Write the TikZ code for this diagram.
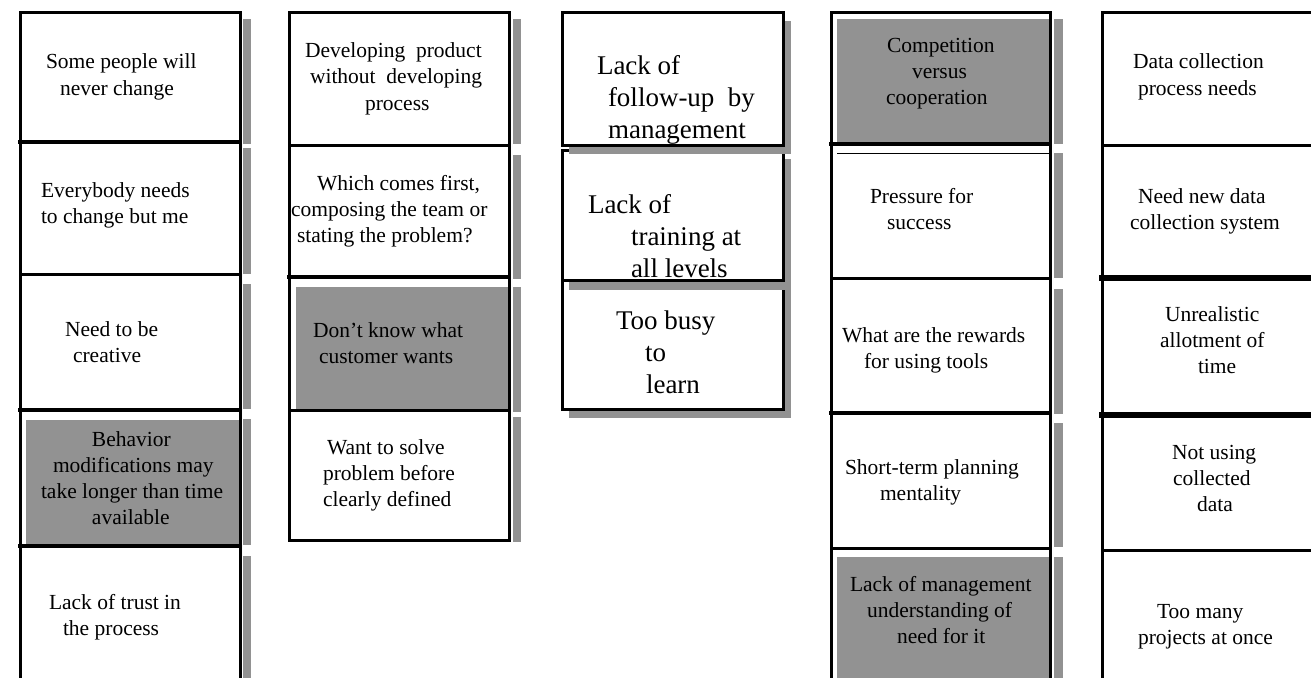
\documentclass[tikz,border=0pt]{standalone}
\usepackage{fontspec}
\setmainfont{Liberation Serif}
\definecolor{shade}{RGB}{146,146,146}
\newcommand\fst{\rule{0pt}{16pt}}
\newcommand\fstb{\rule{0pt}{20pt}}
\begin{document}
\begin{tikzpicture}[x=1pt,y=-1pt,
  lbl/.style={anchor=north west, inner sep=0pt, outer sep=0pt, align=left, font=\fontsize{21.5}{26}\selectfont},
  lblbig/.style={lbl, font=\fontsize{27}{32}\selectfont},
  edge/.style={line width=3pt, line cap=rect},
  heavy/.style={line width=4.5pt, line cap=rect},
  xheavy/.style={line width=6pt, line cap=rect},
  shd/.style={fill=shade, draw=none}]
\useasboundingbox (0,0) rectangle (1311,677);
\fill[white] (0,0) rectangle (1311,677);

% ---------- column 1 ----------
\fill[shd] (243,19) rectangle (251,144);
\fill[shd] (243,148) rectangle (251,274);
\fill[shd] (243,284) rectangle (251,409);
\fill[shd] (243,419) rectangle (251,545);
\fill[shd] (243,556) rectangle (251,680);
\fill[shd] (26,420) rectangle (240,546);
\draw[edge] (20,680) -- (20,12.5) -- (240,12.5) -- (240,680);
\draw[heavy] (20,142) -- (240,142);
\draw[edge] (20,274) -- (240,274);
\draw[heavy] (20,410) -- (240,410);
\draw[heavy] (20,546) -- (240,546);

% ---------- column 2 ----------
\fill[shd] (513,19) rectangle (521,144);
\fill[shd] (513,155) rectangle (521,279);
\fill[shd] (513,287) rectangle (521,412);
\fill[shd] (513,417) rectangle (521,542);
\fill[shd] (296,287) rectangle (509,410);
\draw[edge] (289,13) rectangle (509,540);
\draw[edge] (289,145) -- (509,145);
\draw[heavy] (289,277) -- (509,277);
\draw[edge] (289,410) -- (509,410);

% ---------- column 3 ----------
\fill[shd] (569,289) rectangle (791,418);
\draw[edge, fill=white] (562,280) rectangle (783,409);
\fill[shd] (569,159) rectangle (791,290);
\draw[edge, fill=white] (562,150) rectangle (783,280);
\fill[shd] (569,21) rectangle (791,154);
\draw[edge, fill=white] (562,13) rectangle (783,145);

% ---------- column 4 ----------
\fill[shd] (1054,19) rectangle (1063,144);
\fill[shd] (1054,153) rectangle (1063,278);
\fill[shd] (1054,289) rectangle (1063,414);
\fill[shd] (1054,423) rectangle (1063,547);
\fill[shd] (1054,557) rectangle (1063,680);
\fill[shd] (837,19) rectangle (1050,144);
\fill[shd] (837,557) rectangle (1050,680);
\draw[shade, line width=1pt] (837,153) -- (1050,153);
\draw[edge] (831,680) -- (831,13) -- (1050,13) -- (1050,680);
\draw[heavy] (831,144) -- (1050,144);
\draw[edge] (831,278) -- (1050,278);
\draw[heavy] (831,413) -- (1050,413);
\draw[edge] (831,548) -- (1050,548);

% ---------- column 5 ----------
\draw[edge] (1102,680) -- (1102,13) -- (1320,13);
\draw[edge] (1102,145) -- (1320,145);
\draw[xheavy] (1102,278) -- (1320,278);
\draw[xheavy] (1102,415) -- (1320,415);
\draw[edge] (1102,550) -- (1320,550);

% ---------- texts column 1 ----------
\node[lbl] (c1a) at (46,53) {\fst Some people will\\\hspace*{14pt}never change};
\node[lbl] (c1b) at (41,181) {\fst Everybody needs\\to change but me};
\node[lbl] (c1c) at (65,320) {\fst Need to be\\\hspace*{8pt}creative};
\node[lbl] (c1d) at (41,430) {\fst\hspace*{51pt}Behavior\\\hspace*{12pt}modifications may\\take longer than time\\\hspace*{51pt}available};
\node[lbl] (c1e) at (49,593) {\fst Lack of trust in\\\hspace*{14pt}the process};

% ---------- texts column 2 ----------
\node[lbl] (c2a) at (305,42) {\fst Developing\ \ product\\\hspace*{5pt}without\ \ developing\\\hspace*{60pt}process};
\node[lbl] (c2b) at (291,174) {\fst\hspace*{26pt}Which comes first,\\composing the team or\\\hspace*{6pt}stating the problem?};
\node[lbl] (c2c) at (313,321) {\fst Don't know what\\\hspace*{6pt}customer wants};
\node[lbl] (c2d) at (323,438) {\fst\hspace*{4pt}Want to solve\\problem before\\clearly defined};

% ---------- texts column 3 ----------
\node[lblbig] (c3a) at (597,54) {\fstb Lack of\\\hspace*{11pt}follow-up\ \ by\\\hspace*{11pt}management};
\node[lblbig] (c3b) at (588,193) {\fstb Lack of\\\hspace*{43pt}training at\\\hspace*{43pt}all levels};
\node[lblbig] (c3c) at (616,309) {\fstb Too busy\\\hspace*{29pt}to\\\hspace*{30pt}learn};

% ---------- texts column 4 ----------
\node[lbl] (c4a) at (886,36) {\fst\hspace*{1pt}Competition\\\hspace*{26pt}versus\\cooperation};
\node[lbl] (c4b) at (870,187) {\fst Pressure for\\\hspace*{17pt}success};
\node[lbl] (c4c) at (842,326) {\fst What are the rewards\\\hspace*{22pt}for using tools};
\node[lbl] (c4d) at (845,458) {\fst Short-term planning\\\hspace*{35pt}mentality};
\node[lbl] (c4e) at (850,575) {\fst Lack of management\\\hspace*{17pt}understanding of\\\hspace*{47pt}need for it};

% ---------- texts column 5 ----------
\node[lbl] (c5a) at (1133,53) {\fst Data collection\\\hspace*{5pt}process needs};
\node[lbl] (c5b) at (1130,187) {\fst\hspace*{8pt}Need new data\\collection system};
\node[lbl] (c5c) at (1160,305) {\fst\hspace*{5pt}Unrealistic\\allotment of\\\hspace*{38pt}time};
\node[lbl] (c5d) at (1172,443) {\fst Not using\\\hspace*{1pt}collected\\\hspace*{25pt}data};
\node[lbl] (c5e) at (1138,602) {\fst\hspace*{19pt}Too many\\projects at once};
\end{tikzpicture}
\end{document}
